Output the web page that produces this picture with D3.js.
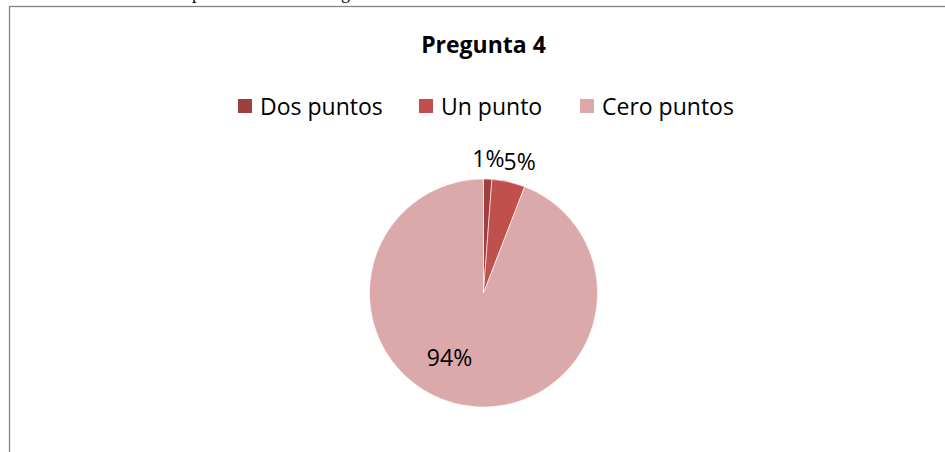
<!DOCTYPE html>
<html>
<head>
<meta charset="utf-8">
<script src="https://cdn.jsdelivr.net/npm/d3@7"></script>
<style>
  body { margin: 0; background: #fff; }
  svg { display: block; }
</style>
</head>
<body>
<div id="chart"></div>
<script>
// data
var categories = ["Dos puntos", "Un punto", "Cero puntos"];
var values = [1, 4, 80];
var colors = ["#A0403E", "#C0504D", "#DBA9A9"];
var title = "Pregunta 4";

var width = 945, height = 452;
var font = "'Open Sans', sans-serif";

var svg = d3.select("#chart")
  .append("svg")
    .attr("width", width)
    .attr("height", height);

// bits of the document text cut off above the chart
svg.append("text").attr("x", 192).attr("y", -1)
  .style("font-family", "'Liberation Serif', serif").style("font-size", "18px").text("p");
svg.append("text").attr("x", 341).attr("y", -1)
  .style("font-family", "'Liberation Serif', serif").style("font-size", "18px").text("g");

// chart frame (runs past the right and bottom edges)
svg.append("rect")
  .attr("x", 9.5).attr("y", 6.5)
  .attr("width", 960).attr("height", 470)
  .attr("fill", "#fff")
  .attr("stroke", "#868686")
  .attr("stroke-width", 1.3);

svg.append("text")
  .attr("x", 483.5).attr("y", 53)
  .attr("text-anchor", "middle")
  .style("font-family", font)
  .style("font-weight", "bold")
  .style("font-size", "23px")
  .text(title);

// legend
var legendX = [238, 419, 580];
var legend = svg.selectAll(".leg")
  .data(categories)
  .enter()
  .append("g")
    .attr("class", "leg")
    .attr("transform", function(d, i) { return "translate(" + legendX[i] + ",99)"; });
legend.append("rect")
  .attr("width", 14).attr("height", 14)
  .attr("fill", function(d, i) { return colors[i]; });
legend.append("text")
  .attr("x", 22).attr("y", 15.5)
  .style("font-family", font)
  .style("font-size", "23px")
  .text(function(d) { return d; });

// pie
var cx = 483.5, cy = 293, r = 114;
var total = d3.sum(values);
var pie = d3.pie().sort(null).value(function(d) { return d; });
var arcs = pie(values);
var arc = d3.arc().innerRadius(0).outerRadius(r);

var g = svg.append("g").attr("transform", "translate(" + cx + "," + cy + ")");
g.selectAll("path")
  .data(arcs)
  .enter()
  .append("path")
    .attr("d", arc)
    .attr("fill", function(d, i) { return colors[i]; })
    .attr("stroke", "#fff")
    .attr("stroke-width", 0.6);

// labels: small slices outside, big slice inside
var outerLabel = d3.arc().innerRadius(r + 20).outerRadius(r + 20);
var labels = g.selectAll(".lbl")
  .data(arcs)
  .enter()
  .append("text")
    .attr("class", "lbl")
    .attr("text-anchor", "middle")
    .style("font-family", font)
    .style("font-size", "23px")
    .text(function(d) { return Math.round(d.value / total * 100) + "%"; });

var pos = arcs.map(function(d) {
  if (d.endAngle - d.startAngle < 0.5) return outerLabel.centroid(d);
  // rotate the inside label a little toward the left, like Excel's best fit
  var a = (d.startAngle + d.endAngle) / 2 + 0.3;
  return [Math.sin(a) * r * 0.64, -Math.cos(a) * r * 0.64];
});
// push the second outside label right so the two don't overlap
labels.each(function(d, i) {
  if (i > 0 && d.endAngle - d.startAngle < 0.5) {
    var prev = labels.nodes()[i - 1].getBBox().width;
    var cur = this.getBBox().width;
    var minX = pos[i - 1][0] + prev / 2 + cur / 2 - 1;
    if (pos[i][0] < minX) pos[i][0] = minX;
  }
});
labels.attr("transform", function(d, i) {
  return "translate(" + pos[i][0] + "," + (pos[i][1] + 8) + ")";
});
</script>
</body>
</html>
